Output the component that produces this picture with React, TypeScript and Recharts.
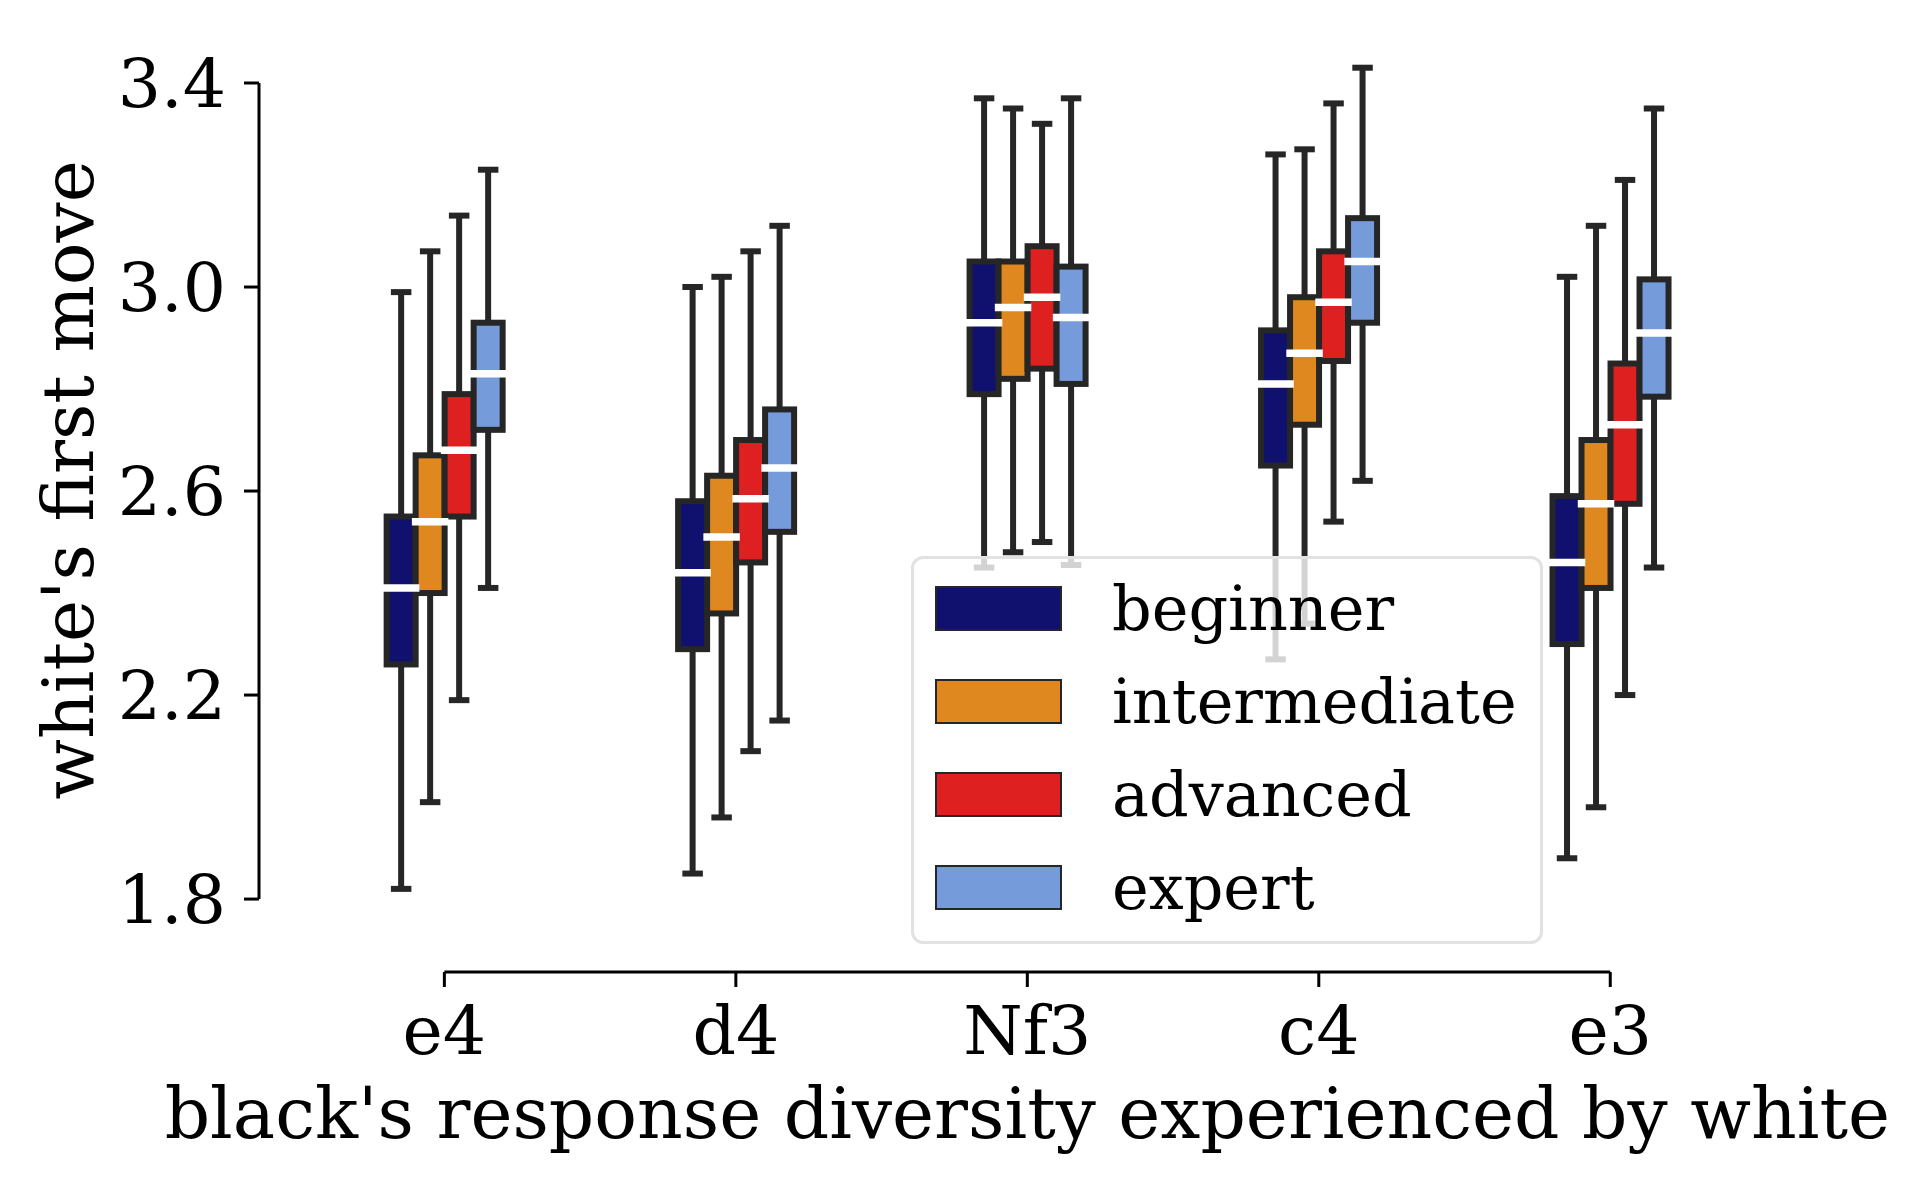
import React from 'react';
import { ComposedChart, Bar, XAxis, YAxis, ReferenceLine, Legend, Label } from 'recharts';

const moves = ['e4', 'd4', 'Nf3', 'c4', 'e3'];
const levels = ['beginner', 'intermediate', 'advanced', 'expert'];
const levelColors = ['#10106e', '#df8820', '#de2020', '#759bdb'];
const yTicks = [1.8, 2.2, 2.6, 3.0, 3.4];

// per move: [lower whisker, q1, median, q3, upper whisker]
const beginner = [
  [1.82, 2.26, 2.41, 2.55, 2.99],
  [1.85, 2.29, 2.44, 2.58, 3.0],
  [2.45, 2.79, 2.93, 3.05, 3.37],
  [2.27, 2.65, 2.81, 2.915, 3.26],
  [1.88, 2.3, 2.46, 2.59, 3.02],
];
const intermediate = [
  [1.99, 2.4, 2.54, 2.67, 3.07],
  [1.96, 2.36, 2.51, 2.63, 3.02],
  [2.48, 2.82, 2.96, 3.05, 3.35],
  [2.34, 2.73, 2.87, 2.98, 3.27],
  [1.98, 2.41, 2.575, 2.7, 3.12],
];
const advanced = [
  [2.19, 2.55, 2.68, 2.79, 3.14],
  [2.09, 2.46, 2.585, 2.7, 3.07],
  [2.5, 2.84, 2.98, 3.08, 3.32],
  [2.54, 2.855, 2.97, 3.07, 3.36],
  [2.2, 2.575, 2.73, 2.85, 3.21],
];
const expert = [
  [2.41, 2.72, 2.83, 2.93, 3.23],
  [2.15, 2.52, 2.645, 2.76, 3.12],
  [2.455, 2.81, 2.94, 3.04, 3.37],
  [2.62, 2.93, 3.05, 3.135, 3.43],
  [2.45, 2.785, 2.91, 3.015, 3.35],
];
const stats = [beginner, intermediate, advanced, expert];

const rows = moves.map((move, i) => {
  const row: any = { x: i, move };
  levels.forEach((lvl, j) => {
    const s = stats[j][i];
    row[lvl] = [s[0], s[4]];
    row[lvl + 'Stats'] = s;
  });
  return row;
});

const FONT = 'DejaVu Serif';
const EDGE = '#262626';
const xMin = -0.636;
const xMax = 4.5;
const yMin = 1.657;
const yMax = 3.5;

function pixelMapper(props: any) {
  const s = props.payload[props.level + 'Stats'];
  const lo = s[0];
  const hi = s[4];
  const k = props.height / (hi - lo);
  return { s, py: (v: number) => props.y + (hi - v) * k };
}

function BoxShape(props: any) {
  const { x, width, fill } = props;
  const { s, py } = pixelMapper(props);
  const cx = x + width / 2;
  const cap = width / 4;
  return (
    <g>
      <line x1={cx} x2={cx} y1={py(s[4])} y2={py(s[0])} stroke={EDGE} strokeWidth={6} />
      <line x1={cx - cap} x2={cx + cap} y1={py(s[4])} y2={py(s[4])} stroke={EDGE} strokeWidth={6} strokeLinecap="square" />
      <line x1={cx - cap} x2={cx + cap} y1={py(s[0])} y2={py(s[0])} stroke={EDGE} strokeWidth={6} strokeLinecap="square" />
      <rect x={x} y={py(s[3])} width={width} height={py(s[1]) - py(s[3])} fill={fill} stroke={EDGE} strokeWidth={6} />
    </g>
  );
}

function MedianShape(props: any) {
  const { x, width } = props;
  const { s, py } = pixelMapper(props);
  return <line x1={x} x2={x + width} y1={py(s[2])} y2={py(s[2])} stroke="#ffffff" strokeWidth={7.5} strokeLinecap="square" />;
}

function XLabel(props: any) {
  const vb = props.viewBox || { x: 259, y: 972, width: 1497 };
  const cx = vb.x + (vb.width * (2 - xMin)) / (xMax - xMin);
  return (
    <text x={cx} y={vb.y + 166} textAnchor="middle" fontFamily={FONT} fontSize={71} fill="#000">
      black's response diversity experienced by white
    </text>
  );
}

function YLabel(props: any) {
  const vb = props.viewBox || { x: 99, y: 32 };
  const x = vb.x - 6;
  const y = vb.y + 448;
  return (
    <text x={x} y={y} transform={`rotate(-90, ${x}, ${y})`} textAnchor="middle" fontFamily={FONT} fontSize={71} fill="#000">
      white's first move
    </text>
  );
}

function renderLegend() {
  return (
    <div
      style={{
        position: 'relative',
        width: 632,
        height: 388,
        boxSizing: 'border-box',
        border: '3px solid #e2e2e2',
        borderRadius: 12,
        background: 'rgba(255,255,255,0.8)',
        fontFamily: FONT,
      }}
    >
      {levels.map((lvl, i) => (
        <div key={lvl} style={{ position: 'absolute', left: 21, top: 27 + i * 93, height: 45, display: 'flex', alignItems: 'center' }}>
          <div style={{ width: 127, height: 45, boxSizing: 'border-box', background: levelColors[i], border: `2.5px solid ${EDGE}` }} />
          <span style={{ marginLeft: 50, fontSize: 62, lineHeight: '45px', color: '#000', whiteSpace: 'nowrap' }}>{lvl}</span>
        </div>
      ))}
    </div>
  );
}

export default function App() {
  return (
    <div style={{ position: 'absolute', left: 0, top: 0, width: 1917, height: 1185, background: '#fff' }}>
      <ComposedChart width={1917} height={1185} data={rows} barGap={0} margin={{ top: 32, right: 161, bottom: 0, left: 99 }}>
        <XAxis
          xAxisId="main"
          type="number"
          dataKey="x"
          domain={[xMin, xMax]}
          allowDataOverflow
          ticks={[0, 1, 2, 3, 4]}
          interval={0}
          tickFormatter={(v: number) => moves[v]}
          axisLine={false}
          tickSize={15}
          tickMargin={19}
          tickLine={{ stroke: '#000', strokeWidth: 3 }}
          tick={{ fill: '#000', fontSize: 68, fontFamily: FONT }}
          height={213}
        >
          <Label content={XLabel} />
        </XAxis>
        <XAxis xAxisId="med" type="number" dataKey="x" domain={[xMin, xMax]} allowDataOverflow hide height={0} />
        <YAxis
          yAxisId="y"
          type="number"
          domain={[yMin, yMax]}
          allowDataOverflow
          ticks={yTicks}
          interval={0}
          tickFormatter={(v: number) => v.toFixed(1)}
          axisLine={false}
          tickSize={15}
          tickMargin={18}
          tickLine={{ stroke: '#000', strokeWidth: 3 }}
          tick={{ fill: '#000', fontSize: 68, fontFamily: FONT }}
          width={160}
        >
          <Label content={YLabel} />
        </YAxis>
        <ReferenceLine
          xAxisId="main"
          yAxisId="y"
          segment={[{ x: xMin, y: yTicks[0] }, { x: xMin, y: yTicks[yTicks.length - 1] }]}
          stroke="#000"
          strokeWidth={3}
          ifOverflow="visible"
        />
        <ReferenceLine
          xAxisId="main"
          yAxisId="y"
          segment={[{ x: 0, y: yMin }, { x: moves.length - 1, y: yMin }]}
          stroke="#000"
          strokeWidth={3}
          ifOverflow="visible"
        />
        {levels.map((lvl, j) => (
          <Bar
            key={lvl}
            xAxisId="main"
            yAxisId="y"
            dataKey={lvl}
            name={lvl}
            fill={levelColors[j]}
            barSize={29}
            isAnimationActive={false}
            shape={(p: any) => <BoxShape {...p} level={lvl} />}
          />
        ))}
        {levels.map((lvl) => (
          <Bar
            key={lvl + '-median'}
            xAxisId="med"
            yAxisId="y"
            dataKey={lvl}
            legendType="none"
            fill="#ffffff"
            barSize={29}
            isAnimationActive={false}
            shape={(p: any) => <MedianShape {...p} level={lvl} />}
          />
        ))}
        <Legend
          content={renderLegend}
          layout="horizontal"
          verticalAlign="middle"
          align="center"
          wrapperStyle={{ left: 911, top: 556, width: 632, height: 388 }}
        />
      </ComposedChart>
    </div>
  );
}
